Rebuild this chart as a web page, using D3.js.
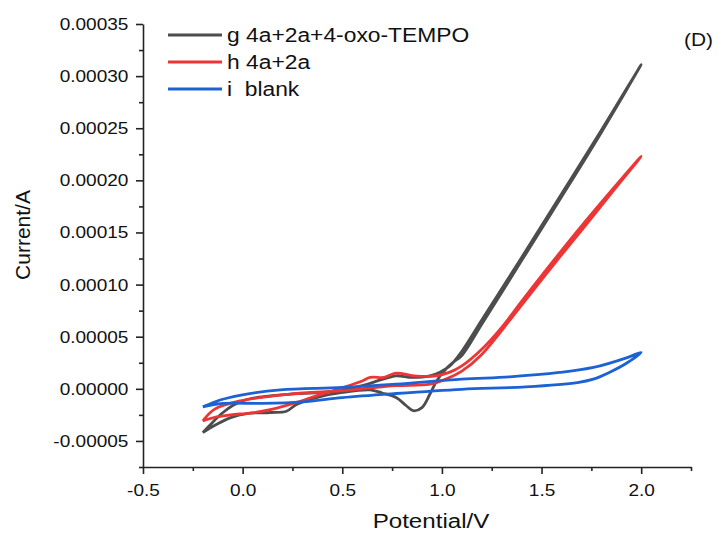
<!DOCTYPE html>
<html>
<head>
<meta charset="utf-8">
<script src="https://cdn.jsdelivr.net/npm/d3@7"></script>
<style>
body { margin: 0; background: #fff; }
text { font-family: "Liberation Sans", Arial, sans-serif; fill: #111; }
</style>
</head>
<body>
<script>
// potential (V) and current (A) of each CV loop, forward scan then reverse
var gV = [-0.2, -0.15, -0.1, -0.05, 0.0, 0.07, 0.15, 0.24, 0.4, 0.5, 0.6, 0.7, 0.77, 0.85, 0.94, 0.99, 1.04, 1.1, 1.2, 1.4, 1.6, 1.8, 2.0,
          1.8, 1.6, 1.4, 1.2, 1.1, 1.06, 1.02, 0.975, 0.94, 0.9, 0.856, 0.82, 0.77, 0.7, 0.64, 0.5, 0.37, 0.27, 0.22, 0.14, 0.02, -0.06, -0.13, -0.2];
var gI = [-4.2e-5, -3.2e-5, -2.3e-5, -1.6e-5, -1.15e-5, -0.84e-5, -0.65e-5, -0.5e-5, -0.35e-5, -0.1e-5, 0.3e-5, 0.9e-5, 1.25e-5, 1.1e-5, 1.25e-5, 1.6e-5, 2.2e-5, 3.6e-5, 6.6e-5, 12.6e-5, 18.7e-5, 24.8e-5, 31.1e-5,
          24.6e-5, 18.4e-5, 12.3e-5, 6.2e-5, 3.2e-5, 2.6e-5, 1.9e-5, 0.8e-5, -0.5e-5, -1.8e-5, -2.1e-5, -1.6e-5, -0.84e-5, -0.4e-5, -0.1e-5, -0.35e-5, -0.84e-5, -1.5e-5, -2.15e-5, -2.27e-5, -2.37e-5, -2.76e-5, -3.4e-5, -4.2e-5];

var hV = [-0.2, -0.13, -0.06, 0.05, 0.15, 0.27, 0.37, 0.5, 0.6, 0.64, 0.71, 0.77, 0.86, 0.97, 1.04, 1.1, 1.2, 1.3, 1.4, 1.56, 1.73, 1.89, 2.0,
          1.89, 1.73, 1.56, 1.39, 1.2, 1.1, 1.02, 0.94, 0.77, 0.6, 0.49, 0.24, -0.01, -0.14, -0.2];
var hI = [-3.08e-5, -2.7e-5, -2.5e-5, -2.3e-5, -1.95e-5, -1.3e-5, -0.67e-5, 0.1e-5, 0.75e-5, 1.1e-5, 1.1e-5, 1.5e-5, 1.25e-5, 1.25e-5, 1.6e-5, 2.2e-5, 3.8e-5, 5.9e-5, 8.4e-5, 12.3e-5, 16.3e-5, 19.9e-5, 22.3e-5,
          19.7e-5, 15.9e-5, 11.9e-5, 7.8e-5, 3.3e-5, 1.7e-5, 0.93e-5, 0.45e-5, 0.3e-5, 0.0, -0.2e-5, -0.5e-5, -1.15e-5, -1.95e-5, -3.08e-5];

var iV = [-0.2, -0.15, -0.1, 0.02, 0.19, 0.5, 0.77, 1.1, 1.34, 1.59, 1.76, 1.93, 2.0,
          1.93, 1.84, 1.76, 1.68, 1.42, 1.1, 0.77, 0.5, 0.3, 0.1, -0.1, -0.2];
var iI = [-1.73e-5, -1.35e-5, -1.0e-5, -0.5e-5, -0.1e-5, 0.13e-5, 0.45e-5, 0.93e-5, 1.15e-5, 1.57e-5, 2.05e-5, 3.0e-5, 3.5e-5,
          2.5e-5, 1.57e-5, 0.93e-5, 0.6e-5, 0.19e-5, -0.05e-5, -0.45e-5, -0.84e-5, -1.25e-5, -1.4e-5, -1.4e-5, -1.73e-5];

var seriesNames = ["g 4a+2a+4-oxo-TEMPO", "h 4a+2a", "i  blank"];
var seriesColors = ["#4d4d4d", "#ee3535", "#1c62d4"];

var xTicks = [-0.5, 0.0, 0.5, 1.0, 1.5, 2.0];
var xTickLabels = ["-0.5", "0.0", "0.5", "1.0", "1.5", "2.0"];
var xMinor = [-0.25, 0.25, 0.75, 1.25, 1.75, 2.25];
var yTicks = [-0.00005, 0, 0.00005, 0.0001, 0.00015, 0.0002, 0.00025, 0.0003, 0.00035];
var yTickLabels = ["-0.00005", "0.00000", "0.00005", "0.00010", "0.00015", "0.00020", "0.00025", "0.00030", "0.00035"];
var yMinor = [-0.000075, -0.000025, 0.000025, 0.000075, 0.000125, 0.000175, 0.000225, 0.000275, 0.000325];

var w = 719, h = 534;
var svg = d3.select("body").append("svg").attr("width", w).attr("height", h);

var x = d3.scaleLinear().domain([-0.5, 2.25]).range([143, 691]);
var y = d3.scaleLinear().domain([-0.000075, 0.00035]).range([467, 24]);

// axes
var yAxis = svg.append("g").attr("transform", "translate(143,0)")
    .call(d3.axisLeft(y).tickValues(yTicks).tickSize(7).tickSizeOuter(0)
        .tickFormat(function (d, i) { return yTickLabels[i]; }));
svg.append("g").attr("transform", "translate(143,0)")
    .call(d3.axisLeft(y).tickValues(yMinor).tickSize(4).tickFormat(""))
    .select(".domain").remove();

var xAxis = svg.append("g").attr("transform", "translate(0,467)")
    .call(d3.axisBottom(x).tickValues(xTicks).tickSize(7).tickSizeOuter(0)
        .tickFormat(function (d, i) { return xTickLabels[i]; }));
svg.append("g").attr("transform", "translate(0,467)")
    .call(d3.axisBottom(x).tickValues(xMinor).tickSize(4).tickFormat(""))
    .select(".domain").remove();

svg.selectAll(".domain").attr("stroke", "#222").attr("stroke-width", 1.6);
svg.selectAll(".tick line").attr("stroke", "#222").attr("stroke-width", 1.6);
svg.selectAll(".tick text").attr("font-family", null).style("font-size", "17px").attr("fill", "#111");
yAxis.selectAll(".tick text").attr("x", -13).attr("transform", "scale(1.12,1)");
xAxis.selectAll(".tick text").attr("y", 17).attr("transform", "scale(1.12,1)");

// curves
var line = d3.line()
    .x(function (d) { return x(d[0]); })
    .y(function (d) { return y(d[1]); })
    .curve(d3.curveCatmullRom.alpha(0.5));

var loops = [d3.zip(gV, gI), d3.zip(hV, hI), d3.zip(iV, iI)];
svg.selectAll("path.cv").data(loops).enter().append("path")
    .attr("class", "cv")
    .attr("d", line)
    .attr("fill", "none")
    .attr("stroke", function (d, i) { return seriesColors[i]; })
    .attr("stroke-width", 2.8)
    .attr("stroke-linejoin", "round");

// legend
var leg = svg.selectAll("g.leg").data(seriesNames).enter().append("g")
    .attr("class", "leg")
    .attr("transform", function (d, i) { return "translate(168," + (35 + i * 27) + ")"; });
leg.append("line").attr("x1", 0).attr("x2", 54)
    .attr("stroke", function (d, i) { return seriesColors[i]; })
    .attr("stroke-width", 2.8);
leg.append("text").attr("transform", "translate(59,0) scale(1.17,1)")
    .attr("dy", "0.36em").style("font-size", "19.5px")
    .style("white-space", "pre").text(function (d) { return d; });

// labels
svg.append("text").attr("transform", "translate(684,46) scale(1.1,1)")
    .style("font-size", "19px").text("(D)");
svg.append("text").attr("transform", "translate(431,528) scale(1.15,1)")
    .attr("text-anchor", "middle").style("font-size", "21px").text("Potential/V");
svg.append("text").attr("transform", "translate(30,235) rotate(-90)")
    .attr("text-anchor", "middle").style("font-size", "21px").text("Current/A");
</script>
</body>
</html>
